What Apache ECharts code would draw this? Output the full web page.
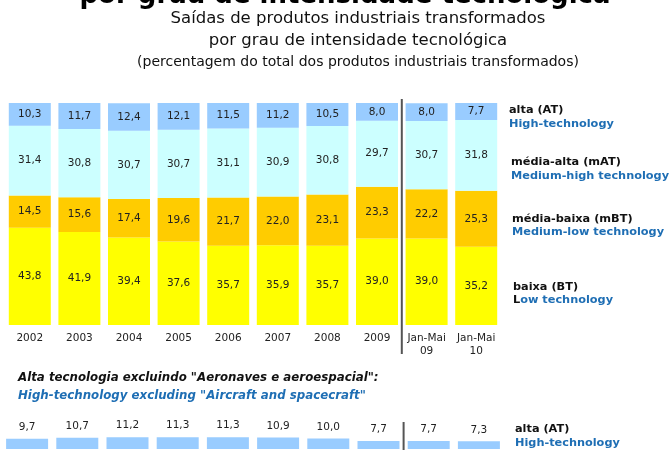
<!DOCTYPE html>
<html>
<head>
<meta charset="utf-8">
<script src="https://cdn.jsdelivr.net/npm/echarts@6/dist/echarts.min.js"></script>
<style>
html, body { margin: 0; padding: 0; background: #fff; }
#chart { width: 672px; height: 450px; }
</style>
</head>
<body>
<div id="chart"></div>
<script>
// saidas de produtos industriais transformados, % do total
var categories = ['2002', '2003', '2004', '2005', '2006', '2007', '2008', '2009', 'Jan-Mai\n09', 'Jan-Mai\n10'];
var baixa = [43.8, 41.9, 39.4, 37.6, 35.7, 35.9, 35.7, 39.0, 39.0, 35.2];
var mediaBaixa = [14.5, 15.6, 17.4, 19.6, 21.7, 22.0, 23.1, 23.3, 22.2, 25.3];
var mediaAlta = [31.4, 30.8, 30.7, 30.7, 31.1, 30.9, 30.8, 29.7, 30.7, 31.8];
var alta = [10.3, 11.7, 12.4, 12.1, 11.5, 11.2, 10.5, 8.0, 8.0, 7.7];
// alta tecnologia sem aeronaves e aeroespacial
var altaExclAero = [9.7, 10.7, 11.2, 11.3, 11.3, 10.9, 10.0, 7.7, 7.7, 7.3];

var FONT = '"DejaVu Sans"';
var BLUE = '#1e6eb4';
var DARK = '#111';

var chart = echarts.init(document.getElementById('chart'));

function fmt(p) {
    return p.value.toFixed(1).replace('.', ',');
}

var valueLabel = {
    show: true,
    position: 'inside',
    formatter: fmt,
    color: '#222',
    fontSize: 10.5,
    fontFamily: FONT
};

function stackBar(name, data, color) {
    return {
        name: name,
        type: 'bar',
        stack: 'total',
        data: data,
        barWidth: 42,
        silent: true,
        itemStyle: { color: color },
        label: valueLabel
    };
}

function txt(x, y, text, font, color, align) {
    return {
        type: 'text',
        x: x,
        y: y,
        silent: true,
        style: {
            text: text,
            font: font,
            fill: color,
            textAlign: align || 'left',
            textVerticalAlign: 'middle'
        }
    };
}

var bold = 'bold 11.3px ' + FONT;

option = {
    animation: false,
    grid: [
        { left: 5, top: 103, width: 496, height: 222 },
        { left: 2, top: 428, width: 502, height: 21 }
    ],
    xAxis: [
        {
            type: 'category',
            gridIndex: 0,
            data: categories,
            axisLine: { show: false },
            axisTick: { show: false },
            axisLabel: {
                margin: 7,
                color: '#222',
                fontSize: 10.5,
                lineHeight: 13,
                fontFamily: FONT,
                interval: 0
            }
        },
        {
            type: 'category',
            gridIndex: 1,
            data: categories,
            show: false
        }
    ],
    yAxis: [
        { type: 'value', gridIndex: 0, min: 0, max: 100, show: false },
        { type: 'value', gridIndex: 1, min: 0, max: 20, show: false }
    ],
    series: [
        stackBar('baixa (BT)', baixa, '#ffff00'),
        stackBar('média-baixa (mBT)', mediaBaixa, '#ffcc00'),
        stackBar('média-alta (mAT)', mediaAlta, '#ccffff'),
        stackBar('alta (AT)', alta, '#99ccff'),
        {
            name: 'alta (AT) excl.',
            type: 'bar',
            xAxisIndex: 1,
            yAxisIndex: 1,
            data: altaExclAero,
            barWidth: 42,
            silent: true,
            itemStyle: { color: '#99ccff' },
            label: {
                show: true,
                position: 'top',
                distance: 6,
                formatter: fmt,
                color: '#222',
                fontSize: 10.5,
                fontFamily: FONT
            }
        }
    ]
};

chart.setOption(option);

// separator between annual and Jan-Mai columns
var a = chart.convertToPixel({ xAxisIndex: 0 }, categories[7]);
var b = chart.convertToPixel({ xAxisIndex: 0 }, categories[8]);
var c = chart.convertToPixel({ xAxisIndex: 1 }, categories[7]);
var d = chart.convertToPixel({ xAxisIndex: 1 }, categories[8]);
var sepTop = (a + b) / 2;
var sepBot = (c + d) / 2;

chart.setOption({
    graphic: [
        txt(345, -4, 'por grau de intensidade tecnológica', 'bold 26px ' + FONT, '#000', 'center'),
        txt(358, 19, 'Saídas de produtos industriais transformados', '16.5px ' + FONT, '#111', 'center'),
        txt(358, 41, 'por grau de intensidade tecnológica', '16.5px ' + FONT, '#111', 'center'),
        txt(358, 62, '(percentagem do total dos produtos industriais transformados)', '14px ' + FONT, '#111', 'center'),

        txt(509, 110, 'alta (AT)', bold, DARK),
        txt(509, 124, 'High-technology', bold, BLUE),
        txt(511, 162, 'média-alta (mAT)', bold, DARK),
        txt(511, 176, 'Medium-high technology', bold, BLUE),
        txt(512, 219, 'média-baixa (mBT)', bold, DARK),
        txt(512, 232, 'Medium-low technology', bold, BLUE),
        txt(513, 287, 'baixa (BT)', bold, DARK),
        {
            type: 'text',
            x: 513,
            y: 300,
            silent: true,
            style: {
                text: '{k|L}{b|ow technology}',
                font: bold,
                textVerticalAlign: 'middle',
                rich: {
                    k: { fill: DARK, font: bold },
                    b: { fill: BLUE, font: bold }
                }
            }
        },

        txt(18, 378, 'Alta tecnologia excluindo "Aeronaves e aeroespacial":', 'italic bold 11.8px ' + FONT, DARK),
        txt(18, 396, 'High-technology excluding "Aircraft and spacecraft"', 'italic bold 11.8px ' + FONT, BLUE),
        txt(515, 429, 'alta (AT)', bold, DARK),
        txt(515, 443, 'High-technology', bold, BLUE),

        {
            type: 'line',
            silent: true,
            shape: { x1: sepTop, y1: 99, x2: sepTop, y2: 354 },
            style: { stroke: '#555', lineWidth: 2 }
        },
        {
            type: 'line',
            silent: true,
            shape: { x1: sepBot, y1: 422, x2: sepBot, y2: 450 },
            style: { stroke: '#555', lineWidth: 2 }
        }
    ]
});
</script>
</body>
</html>
